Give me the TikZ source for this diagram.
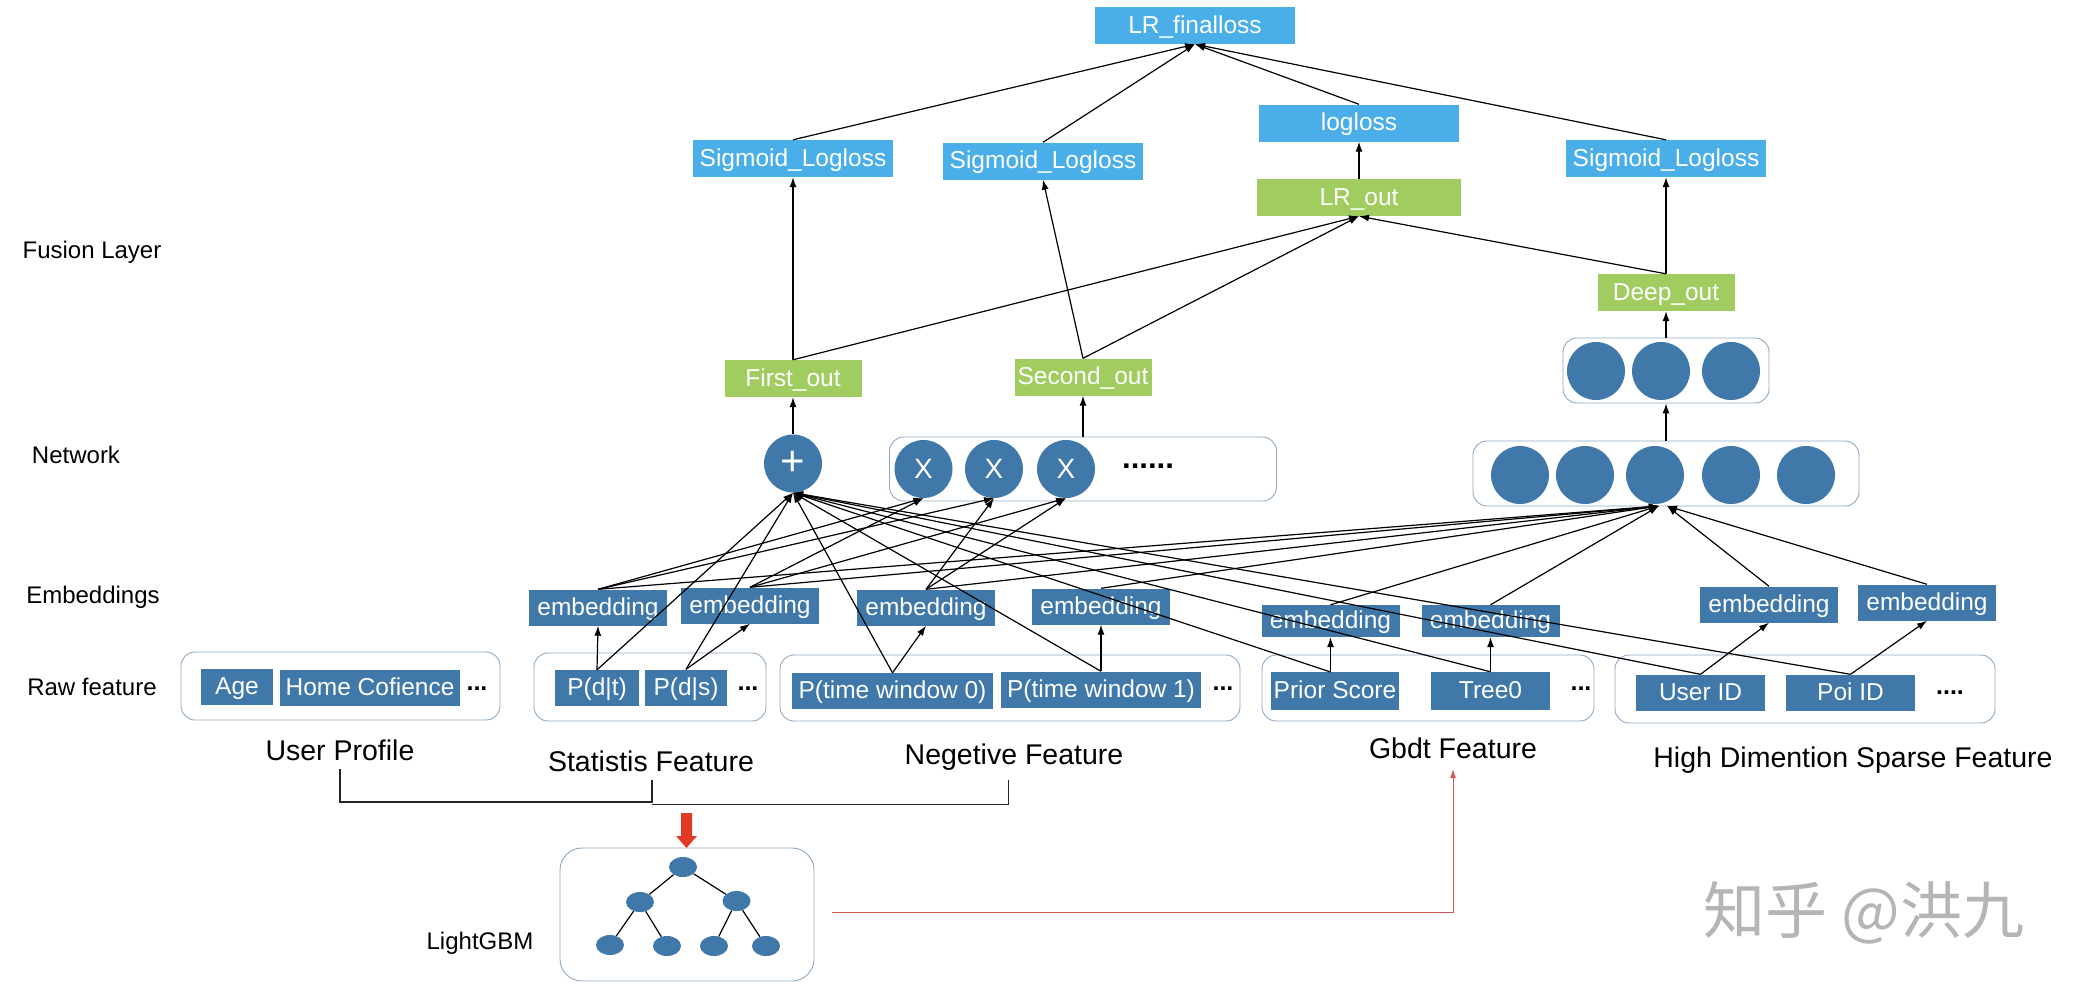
\documentclass[tikz,border=0pt]{standalone}
\usepackage{fontspec}
\setmainfont{Liberation Sans}
\newfontfamily\cjkfont{Noto Sans CJK SC}
\usetikzlibrary{arrows.meta,shapes.geometric}

\definecolor{featblue}{HTML}{3F78A9}
\definecolor{lossblue}{HTML}{4AAEE8}
\definecolor{outgreen}{HTML}{A0CC60}
\definecolor{groupline}{HTML}{8FA9C2}
\definecolor{redline}{HTML}{CF5B52}
\definecolor{redblock}{HTML}{E23A25}

\begin{document}
\begin{tikzpicture}[
  x=1pt, y=-1pt,
  feat/.style={fill=featblue, text=white, inner sep=0pt, minimum height=36pt,
    text height=18pt, text depth=3pt, font=\fontsize{24.5}{29}\selectfont},
  embed/.style={feat, minimum width=138pt},
  loss/.style={feat, fill=lossblue, minimum width=200pt, minimum height=37pt},
  outbox/.style={feat, fill=outgreen, minimum width=137pt, minimum height=37pt},
  group/.style={draw=groupline, line width=0.9pt, rounded corners=14pt, fill=white, inner sep=0pt},
  circ/.style={ellipse, fill=featblue, text=white, inner sep=0pt, minimum width=58pt, minimum height=58pt,
    font=\fontsize{28}{32}\selectfont},
  treenode/.style={ellipse, fill=featblue, inner sep=0pt, minimum width=28pt, minimum height=20pt},
  more/.style={inner sep=0pt, font=\fontsize{25}{25}\bfseries\selectfont},
  tag/.style={inner sep=0pt, font=\fontsize{24}{28}\selectfont},
  title/.style={inner sep=0pt, font=\fontsize{28.5}{34}\selectfont},
  arrow/.style={-{Latex[length=10pt,width=7pt]}, line width=1.2pt, black},
  branch/.style={line width=1.2pt, black!85}
]
\useasboundingbox (0,0) rectangle (2078,996);

% row labels
\node[tag] (fusion) at (92,252) {Fusion Layer};
\node[tag] (network) at (76,455) {Network};
\node[tag] (embeddings) at (93,597) {Embeddings};
\node[tag] (raw) at (92,687) {Raw feature};

% raw feature groups
\node[group, minimum width=319pt, minimum height=68pt] (userbox) at (340.5,686) {};
\node[group, minimum width=232pt, minimum height=68pt] (statbox) at (650,687) {};
\node[group, minimum width=460pt, minimum height=66pt] (negbox) at (1010,688) {};
\node[group, minimum width=332pt, minimum height=66pt] (gbdtbox) at (1428,688) {};
\node[group, minimum width=380pt, minimum height=68pt] (highbox) at (1805,689) {};

\node[feat, minimum width=72pt] (age) at (237,686.5) {Age};
\node[feat, minimum width=180pt] (home) at (370,687.5) {Home Cofience};
\node[more] (dotsa) at (477,689) {...};
\node[feat, minimum width=84pt] (pdt) at (597,688) {P(d|t)};
\node[feat, minimum width=82pt] (pds) at (686,687.5) {P(d|s)};
\node[more] (dotsb) at (748,689) {...};
\node[feat, minimum width=201pt] (tw0) at (892.5,691) {P(time window 0)};
\node[feat, minimum width=200pt] (tw1) at (1101,689.5) {P(time window 1)};
\node[more] (dotsc) at (1223,689) {...};
\node[feat, minimum width=128pt, minimum height=38pt] (prior) at (1335,691) {Prior Score};
\node[feat, minimum width=119pt, minimum height=38pt] (tree0) at (1490.5,691) {Tree0};
\node[more] (dotsd) at (1581,689) {...};
\node[feat, minimum width=129pt] (userid) at (1700.5,692.5) {User ID};
\node[feat, minimum width=129pt] (poiid) at (1850.5,692.5) {Poi ID};
\node[more] (dotse) at (1950,693) {....};
\coordinate (priortop) at (1330.5,672);

% group titles
\node[title] (userprofile) at (340,750) {User Profile};
\node[title] (statistis) at (651,761) {Statistis Feature};
\node[title] (negetive) at (1014,757) {Negetive Feature};
\node[title] (gbdt) at (1453,748) {Gbdt Feature};
\node[title] (high) at (1853,760) {High Dimention Sparse Feature};

% embeddings
\node[embed] (emba) at (598,607.5) {embedding};
\node[embed] (embb) at (750,605.5) {embedding};
\node[embed] (embc) at (926,607.5) {embedding};
\node[embed] (embd) at (1101,606.5) {embedding};
\node[embed, minimum height=32pt] (embe) at (1330.5,621) {embedding};
\node[embed, minimum height=32pt] (embf) at (1490.5,621) {embedding};
\node[embed] (embg) at (1769,604.5) {embedding};
\node[embed] (embh) at (1927,602.5) {embedding};

% network layer
\node[group, minimum width=387pt, minimum height=64pt] (crossbox) at (1083,469) {};
\node[group, minimum width=386pt, minimum height=65pt] (deepbox) at (1666,473.5) {};
\node[group, minimum width=206pt, minimum height=65pt] (hidbox) at (1666,370.5) {};
\node[circ, font=\fontsize{42}{46}\selectfont] (plus) at (793,463.5) {+};
\node[circ] (crossa) at (923.5,469) {X};
\node[circ] (crossb) at (994,469) {X};
\node[circ] (crossc) at (1066,469) {X};
\node[more, font=\fontsize{31}{31}\bfseries\selectfont] (dotsf) at (1148,466) {......};
\foreach \n/\x in {deepa/1520,deepb/1585,deepc/1655,deepd/1731,deepe/1806}
  \node[circ] (\n) at (\x,475) {};
\foreach \n/\x in {hida/1596,hidb/1661,hidc/1731}
  \node[circ] (\n) at (\x,371) {};
\coordinate (deepinl) at (1659,506);
\coordinate (deepinr) at (1667,506);

% fusion layer
\node[outbox] (firstout) at (793,378.5) {First\_out};
\node[outbox] (secondout) at (1083,377) {Second\_out};
\node[outbox] (deepout) at (1666,292.5) {Deep\_out};
\node[outbox, minimum width=204pt] (lrout) at (1359,197.5) {LR\_out};
\node[loss] (sigma) at (793,158.5) {Sigmoid\_Logloss};
\node[loss] (sigmb) at (1043,161) {Sigmoid\_Logloss};
\node[loss] (logloss) at (1359,123) {logloss};
\node[loss] (sigmc) at (1666,158.5) {Sigmoid\_Logloss};
\node[loss] (final) at (1195,25.5) {LR\_finalloss};

% lightgbm
\node[tag] (lightgbm) at (480,943) {LightGBM};
\node[group, rounded corners=22pt, minimum width=254pt, minimum height=133pt] (gbmbox) at (687,914.5) {};
\node[treenode] (ta) at (683,867) {};
\node[treenode] (tb) at (640,902) {};
\node[treenode] (tc) at (736.5,901) {};
\node[treenode] (td) at (610,945) {};
\node[treenode] (te) at (667,946) {};
\node[treenode] (tf) at (714,946) {};
\node[treenode] (tg) at (766,946) {};
\foreach \a/\b in {ta/tb,ta/tc,tb/td,tb/te,tc/tf,tc/tg}
  \draw[line width=1.2pt] (\a) -- (\b);

% bracket and red links
\coordinate (brleft) at (340,769);
\coordinate (brleftlow) at (340,802);
\coordinate (brmid) at (652,780);
\coordinate (brmidlow) at (652,802);
\coordinate (brmidb) at (652,804);
\coordinate (brrightlow) at (1008,804);
\coordinate (brright) at (1008,780);
\draw[branch] (brleft) -- (brleftlow) -- (brmidlow) -- (brmid);
\draw[branch, line width=1pt] (brmidb) -- (brrightlow) -- (brright);
\fill[redblock] (681,813) -- (692,813) -- (692,836) -- (697,836) -- (686.5,848) -- (676,836) -- (681,836) -- cycle;
\coordinate (gbmout) at (832,912);
\coordinate (gbdtin) at (1453,769);
\draw[-{Latex[length=9pt,width=6pt]}, line width=1pt, redline] (gbmout) -- (gbdtin |- gbmout) -- (gbdtin);

% raw to embedding
\foreach \a/\b in {pdt/emba,pds/embb,tw0/embc,tw1/embd,tree0/embf,userid/embg,poiid/embh}
  \draw[arrow] (\a.north) -- (\b.south);
\draw[arrow] (priortop) -- (embe.south);

% raw to plus
\foreach \a in {pdt.north,pds.north,tw0.north,tw1.north,priortop,tree0.north,userid.north,poiid.north}
  \draw[arrow] (\a) -- (plus.south);

% embedding to cross
\foreach \a/\b in {emba/crossa,emba/crossb,embb/crossa,embb/crossc,embc/crossb,embc/crossc}
  \draw[arrow] (\a.north) -- (\b.south);

% embedding to deep
\foreach \a in {emba,embb,embc,embd,embe,embf}
  \draw[arrow] (\a.north) -- (deepinl);
\foreach \a in {embg,embh}
  \draw[arrow] (\a.north) -- (deepinr);

% upper layers
\foreach \a/\b in {plus/firstout,crossbox/secondout,deepbox/hidbox,hidbox/deepout,firstout/sigma,secondout/sigmb,deepout/sigmc,firstout/lrout,secondout/lrout,deepout/lrout,lrout/logloss,sigma/final,sigmb/final,logloss/final,sigmc/final}
  \draw[arrow] (\a.north) -- (\b.south);

% watermark
\node[inner sep=0pt, text=black!29, font=\cjkfont\fontsize{62}{70}\selectfont] (mark) at (1864,913) {知乎 @洪九};
\end{tikzpicture}
\end{document}
